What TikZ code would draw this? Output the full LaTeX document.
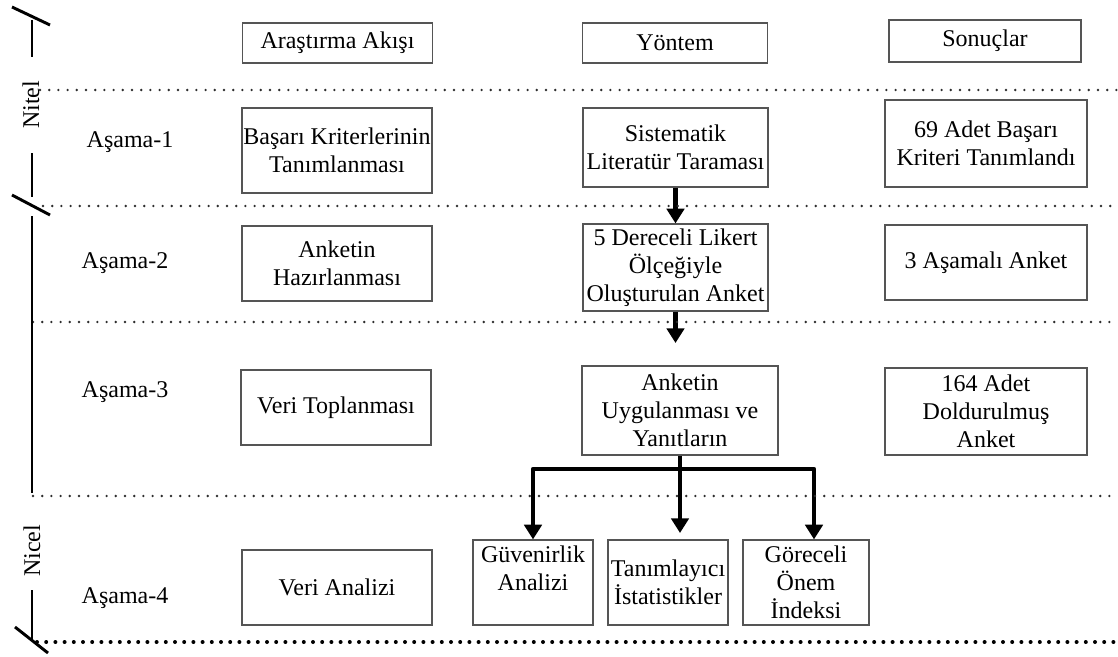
\documentclass[tikz,border=0pt]{standalone}
\usepackage{fontspec}
\setmainfont{Liberation Serif}
\usetikzlibrary{arrows.meta,positioning}
\definecolor{boxgray}{RGB}{85,85,85}
\definecolor{dotgray}{RGB}{45,45,45}

\begin{document}
\begin{tikzpicture}[
  x=0.75pt, y=-0.75pt,
  every node/.style={font=\fontsize{18pt}{21pt}\selectfont, text=black},
  box/.style={draw=boxgray, line width=0.9pt, align=center, inner sep=0.5pt},
  colA/.style={box, minimum width=142.5pt, minimum height=56.25pt},
  colB/.style={box, minimum width=138.75pt, minimum height=65.25pt},
  colC/.style={box, minimum width=151.5pt, minimum height=65.25pt},
  head/.style={box, minimum height=30pt},
  leaf/.style={box, minimum width=90pt, minimum height=63.75pt},
  stage/.style={align=center},
  sep/.style={draw=dotgray, line width=2pt, line cap=round, dash pattern=on 0pt off 6.9pt},
  brace/.style={line width=2.2pt},
  arr/.style={-{Triangle[length=11pt,width=13pt]}, line width=3.6pt}
]
\useasboundingbox (0,0) rectangle (1118,657);

\node[head, minimum width=142.5pt] (akis) at (337.5,43) {Araştırma Akışı};
\node[head, minimum width=138.75pt] (yontem) at (675,43) {Yöntem};
\node[head, minimum width=144pt, minimum height=31.5pt] (sonuc) at (985,41) {Sonuçlar};

\node[stage] (a1) at (130,142) {Aşama-1};
\node[stage] (a2) at (125,263) {Aşama-2};
\node[stage] (a3) at (125,392) {Aşama-3};
\node[stage] (a4) at (125,598) {Aşama-4};

\node[colA, minimum height=63.75pt] (kriter) at (337,150.5) {Başarı Kriterlerinin\\Tanımlanması};
\node[colB, minimum height=59.25pt] (tarama) at (675.5,147.5) {Sistematik\\Literatür Taraması};
\node[colC] (adet) at (986,143.5) {69 Adet Başarı\\Kriteri Tanımlandı};

\node[colA] (hazir) at (337,263.5) {Anketin\\Hazırlanması};
\node[colB] (likert) at (675.5,267.5) {5 Dereceli Likert\\Ölçeğiyle\\Oluşturulan Anket};
\node[colC, minimum height=56.25pt] (asamali) at (986,262.5) {3 Aşamalı Anket};

\node[colA] (toplama) at (336,407.5) {Veri Toplanması};
\node[colB, minimum width=147pt, minimum height=66.75pt] (uygula) at (680,410.5) {Anketin\\Uygulanması ve\\Yanıtların};
\node[colC] (doldur) at (986,411.5) {164 Adet\\Doldurulmuş\\Anket};

\node[colA] (analiz) at (337,587.5) {Veri Analizi};
\node[leaf] (guven) at (533,582.5) {Güvenirlik\\Analizi\\\phantom{A}};
\node[leaf] (tanim) at (668,582.5) {Tanımlayıcı\\İstatistikler};
\node[leaf, minimum width=94.5pt] (onem) at (806,582.5) {Göreceli\\Önem\\İndeksi};

\coordinate (likertend) at (675.5,343);
\coordinate (split) at (680,469);
\coordinate (midend) at (680,533);

\draw[arr] (tarama) -- (likert);
\draw[arr] (likert) -- (likertend);
\draw[arr] (uygula.south) -- (midend);
\draw[arr, line join=round] (split) -| (guven.north);
\draw[arr, line join=round] (split) -| ([xshift=6pt]onem.north);

\draw[sep] (40,90) -- (1118,90);
\draw[sep] (43,206) -- (1118,206);
\draw[sep] (33,322) -- (1118,322);
\draw[sep] (33,496) -- (1118,496);
\draw[sep, draw=black, line width=3pt] (37,642) -- (1118,642);

\draw[brace] (32,20) -- (32,57);
\draw[brace] (12,7) -- (50,25);
\node[rotate=90] (nitel) at (31,105) {Nitel};
\draw[brace] (32,153) -- (32,197);
\draw[brace] (12,195) -- (50,215);
\draw[brace] (32,216) -- (32,493);
\node[rotate=90] (nicel) at (32,551) {Nicel};
\draw[brace] (32,590) -- (32,641);
\draw[brace] (15,627) -- (48,653);
\end{tikzpicture}
\end{document}
